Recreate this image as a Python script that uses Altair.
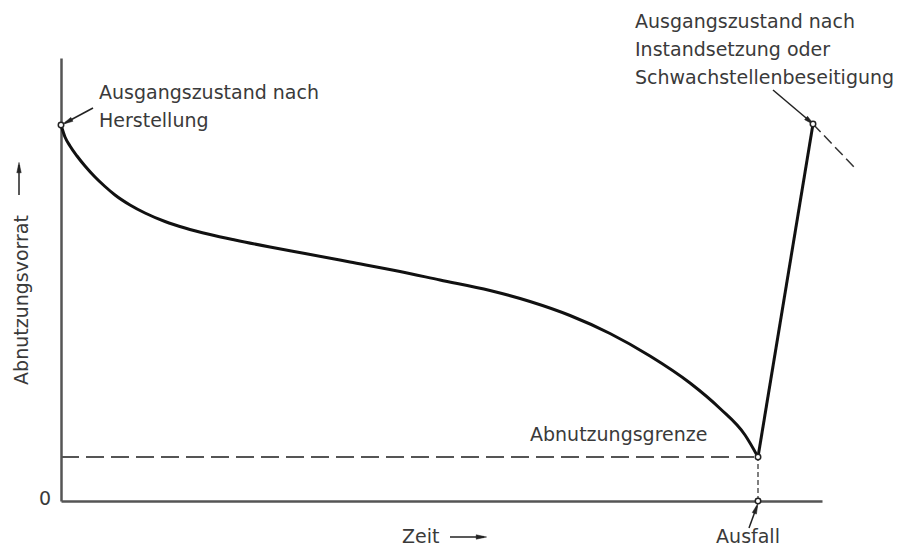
import math
import altair as alt
import pandas as pd

# ---- data (abstract units: time t, wear reserve v) ----
curve_t = [0, 4, 9, 16, 24, 34, 44, 54, 69, 84, 104, 124, 149, 174, 209, 244, 289, 339,
           379, 429, 469, 509, 549, 589, 629, 659, 684, 697]
curve_v = [376, 364, 355, 345, 335, 324, 314.5, 306, 296, 288, 279.5, 273, 266.5, 261, 254, 247.5, 239, 229.5,
           221, 210.5, 199.5, 185.5, 167.5, 145, 118, 92.5, 66, 44]

repair_t = [697, 752]
repair_v = [44, 377]
extension_t = [752, 794]
extension_v = [377, 333]

limit_level = 44
failure_time = 697

marker_t = [0, 752, 697, 697]
marker_v = [376, 377, 44, 0]

arrow_t0 = [32, 712, 688, -42, 389]
arrow_v0 = [393, 411, -27, 306, -36]
arrow_t1 = [4, 751, 696, -42, 423]
arrow_v1 = [378, 378, -5, 336, -36]

left_labels = ["Ausgangszustand nach", "Herstellung",
               "Ausgangszustand nach", "Instandsetzung oder", "Schwachstellenbeseitigung",
               "Abnutzungsgrenze", "Zeit"]
left_t = [38, 38, 574, 574, 574, 469, 341]
left_v = [408, 380, 479, 451, 423, 66, -36]

center_labels = ["Ausfall", "0"]
center_t = [687, -16]
center_v = [-36, 2]

y_title = "Abnutzungsvorrat"
y_title_t = -39
y_title_v = 201

T_MAX = 761
V_MAX = 443

# ---- tables ----
curve_df = pd.DataFrame({"t": curve_t, "v": curve_v, "o": list(range(len(curve_t)))})
repair_df = pd.DataFrame({"t": repair_t, "v": repair_v})
ext_df = pd.DataFrame({"t": extension_t, "v": extension_v})
hline_df = pd.DataFrame({"t": [0], "t2": [failure_time], "v": [limit_level]})
vline_df = pd.DataFrame({"t": [failure_time], "v": [0], "v2": [limit_level]})
marker_df = pd.DataFrame({"t": marker_t, "v": marker_v})
arrow_df = pd.DataFrame({"t": arrow_t0, "v": arrow_v0, "t2": arrow_t1, "v2": arrow_v1})

heads = []
for t0, v0, t1, v1 in zip(arrow_t0, arrow_v0, arrow_t1, arrow_v1):
    dt, dv = t1 - t0, v1 - v0
    n = math.hypot(dt, dv)
    ang = math.degrees(math.atan2(dt, dv)) % 360
    heads.append({"t": t1 - 3.5 * dt / n, "v": v1 - 3.5 * dv / n, "angle": ang})
head_df = pd.DataFrame(heads)

left_df = pd.DataFrame({"t": left_t, "v": left_v, "label": left_labels})
center_df = pd.DataFrame({"t": center_t, "v": center_v, "label": center_labels})
ytitle_df = pd.DataFrame({"t": [y_title_t], "v": [y_title_v], "label": [y_title]})

xs = alt.Scale(domain=[0, T_MAX], nice=False, zero=False)
ys = alt.Scale(domain=[0, V_MAX], nice=False, zero=False)

X = alt.X("t:Q", scale=xs, title=None)
Y = alt.Y("v:Q", scale=ys, title=None)

FONT = "DejaVu Sans"
FONT_SIZE = 19
TEXT_COLOR = "#3a3a3a"
ARROW_SHAPE = "M0,-1L0.36,0.7L-0.36,0.7Z"

curve = alt.Chart(curve_df).mark_line(
    color="#111", strokeWidth=3, interpolate="monotone"
).encode(x=X, y=Y, order="o:Q")

repair = alt.Chart(repair_df).mark_line(color="#111", strokeWidth=3).encode(x=X, y=Y)

extension = alt.Chart(ext_df).mark_line(
    color="#333", strokeWidth=1.5, strokeDash=[11, 5]
).encode(x=X, y=Y)

hline = alt.Chart(hline_df).mark_rule(
    color="#555", strokeWidth=2.2, strokeDash=[18, 7]
).encode(x=X, x2="t2:Q", y=Y)

vline = alt.Chart(vline_df).mark_rule(
    color="#555", strokeWidth=1.5, strokeDash=[5, 3]
).encode(x=X, y=Y, y2="v2:Q")

arrows = alt.Chart(arrow_df).mark_rule(color="#222", strokeWidth=1.5).encode(
    x=X, y=Y, x2="t2:Q", y2="v2:Q"
)

arrowheads = alt.Chart(head_df).mark_point(
    shape=ARROW_SHAPE, filled=True, fill="#222", stroke="#222", strokeWidth=0.5, size=150, opacity=1
).encode(x=X, y=Y, angle=alt.Angle("angle:Q", scale=None))

markers = alt.Chart(marker_df).mark_point(
    shape="circle", filled=True, fill="white", stroke="#222", strokeWidth=1.5, size=30, opacity=1
).encode(x=X, y=Y)

left_text = alt.Chart(left_df).mark_text(
    align="left", baseline="middle", font=FONT, fontSize=FONT_SIZE, color=TEXT_COLOR
).encode(x=X, y=Y, text="label:N")

center_text = alt.Chart(center_df).mark_text(
    align="center", baseline="middle", font=FONT, fontSize=FONT_SIZE, color=TEXT_COLOR
).encode(x=X, y=Y, text="label:N")

ytitle = alt.Chart(ytitle_df).mark_text(
    align="center", baseline="middle", font=FONT, fontSize=FONT_SIZE, color=TEXT_COLOR, angle=270
).encode(x=X, y=Y, text="label:N")

chart = alt.layer(
    hline, vline, extension, curve, repair, arrows, arrowheads, markers,
    left_text, center_text, ytitle
).properties(
    width=T_MAX,
    height=V_MAX,
    autosize="none",
    padding={"left": 53, "top": 50, "right": 75, "bottom": 45},
    background="white",
).configure_view(
    stroke=None
).configure_axis(
    domain=True, domainColor="#555", domainWidth=2.5,
    ticks=False, labels=False, grid=False
)

chart.save("out.html", embed_options={"renderer": "svg", "actions": False})
